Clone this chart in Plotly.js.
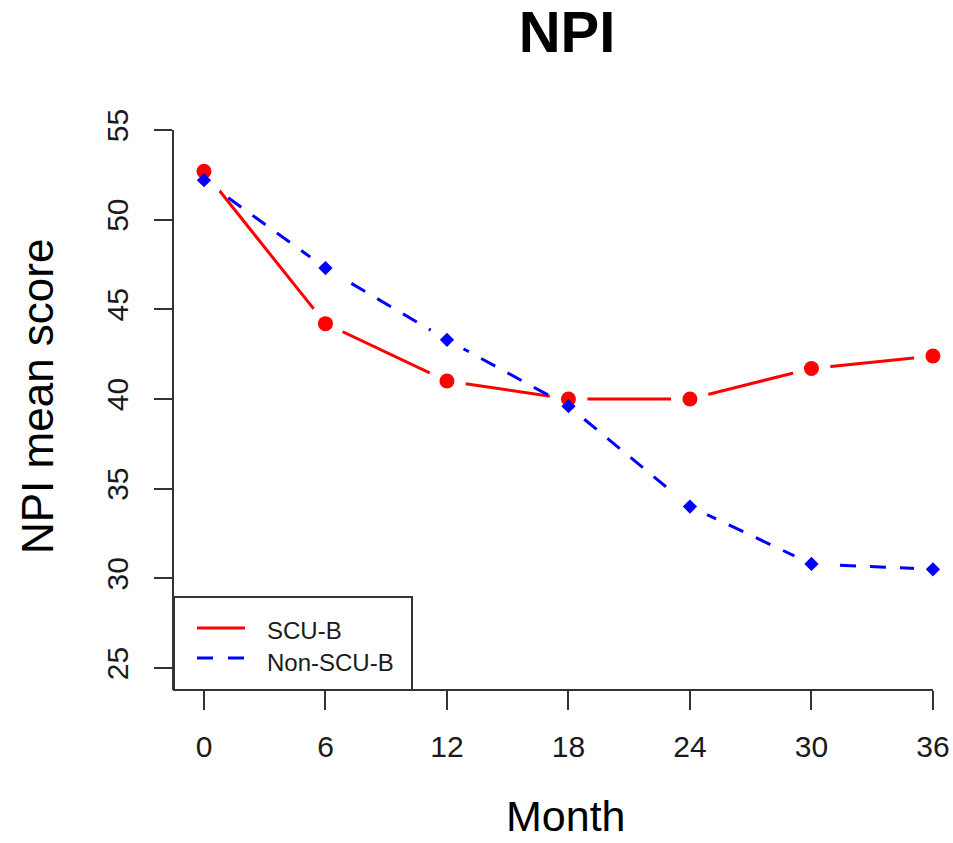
<!DOCTYPE html>
<html>
<head>
<meta charset="utf-8">
<script src="https://cdn.plot.ly/plotly-3.0.1.min.js"></script>
<style>html,body{margin:0;padding:0;background:#fff;}#chart{width:953px;height:843px;}</style>
</head>
<body>
<div id="chart"></div>
<script>
// ---- data ----
const months = [0, 6, 12, 18, 24, 30, 36];
const scuB = [52.7, 44.2, 41.0, 40.0, 40.0, 41.7, 42.4];
const nonScuB = [52.2, 47.3, 43.3, 39.6, 34.0, 30.8, 30.5];
const seriesNames = ["SCU-B", "Non-SCU-B"];
const xTicks = [0, 6, 12, 18, 24, 30, 36];
const yTicks = [25, 30, 35, 40, 45, 50, 55];
const chartTitle = "NPI";
const xTitle = "Month";
const yTitle = "NPI mean score";

// ---- styles ----
const RED = "#ff0000";
const BLUE = "#0000ff";
const FONT = "Liberation Sans, Arial, sans-serif";
const AXC = "#333333";
const XR = [-1.48, 36.99];
const YR = [23.77, 55];

const traces = [
  // connecting lines
  {x: months, y: scuB, name: seriesNames[0], mode: "lines", line: {color: RED, width: 3}, showlegend: false},
  {x: months, y: nonScuB, name: seriesNames[1], mode: "lines", line: {color: BLUE, width: 3, dash: "16px,14px"}, showlegend: false},
  // white gaps around each point (R type = "b")
  {x: months, y: scuB, name: "gap", mode: "markers", marker: {color: "#ffffff", size: 38, symbol: "circle"}, showlegend: false},
  {x: months, y: nonScuB, name: "gap", mode: "markers", marker: {color: "#ffffff", size: 38, symbol: "circle"}, showlegend: false},
  // point markers
  {x: months, y: scuB, name: seriesNames[0], mode: "markers", marker: {color: RED, size: 15, symbol: "circle"}, showlegend: false},
  {x: months, y: nonScuB, name: seriesNames[1], mode: "markers", marker: {color: BLUE, size: 11, symbol: "diamond"}, showlegend: false}
];

// geometry (pixels) -> paper units
const L = 174, PR = 953, T = 130, B = 690;
const px = v => (v - L) / (PR - L);
const py = v => (B - v) / (B - T);

const layout = {
  width: 953, height: 843,
  margin: {l: L, r: 953 - PR, t: T, b: 843 - B},
  paper_bgcolor: "#ffffff", plot_bgcolor: "#ffffff",
  font: {family: FONT, color: "#1a1a1a"},
  title: {text: "<b>" + chartTitle + "</b>", font: {family: FONT, size: 58, color: "#000000"},
          xref: "paper", x: px(567), xanchor: "center",
          yref: "container", y: 1 - 32 / 843, yanchor: "middle"},
  showlegend: false,
  hovermode: false,
  xaxis: {
    range: XR, tickvals: xTicks, ticktext: xTicks.map(String),
    showgrid: false, zeroline: false, showline: false,
    ticks: "outside", ticklen: 19, tickwidth: 2, tickcolor: AXC,
    tickfont: {family: FONT, size: 30, color: "#1a1a1a"}, ticklabelstandoff: 11,
    fixedrange: true
  },
  yaxis: {
    range: YR, tickvals: yTicks, ticktext: yTicks.map(String),
    showgrid: false, zeroline: false, showline: true, linecolor: AXC, linewidth: 2,
    ticks: "outside", ticklen: 18, tickwidth: 2, tickcolor: AXC, tickangle: -90,
    tickfont: {family: FONT, size: 30, color: "#1a1a1a"}, ticklabelstandoff: 14,
    fixedrange: true
  },
  shapes: [
    // bottom axis line, from the y axis to the last tick
    {type: "line", xref: "x", yref: "paper", x0: XR[0], x1: xTicks[xTicks.length - 1], y0: 0, y1: 0,
     line: {color: AXC, width: 2}, layer: "above"},
    // legend box
    {type: "rect", xref: "paper", yref: "paper", x0: 0, x1: px(412), y0: 0, y1: py(597),
     line: {color: AXC, width: 2}, fillcolor: "#ffffff", layer: "above"},
    {type: "line", xref: "paper", yref: "paper", x0: px(197), x1: px(245), y0: py(628), y1: py(628),
     line: {color: RED, width: 3}, layer: "above"},
    {type: "line", xref: "paper", yref: "paper", x0: px(197), x1: px(245), y0: py(658), y1: py(658),
     line: {color: BLUE, width: 3, dash: "16px,15px"}, layer: "above"}
  ],
  annotations: [
    {text: seriesNames[0], xref: "paper", yref: "paper", x: px(265), y: py(630), xanchor: "left", yanchor: "middle",
     showarrow: false, font: {family: FONT, size: 24, color: "#1a1a1a"}},
    {text: seriesNames[1], xref: "paper", yref: "paper", x: px(265), y: py(662), xanchor: "left", yanchor: "middle",
     showarrow: false, font: {family: FONT, size: 24, color: "#1a1a1a"}},
    {text: xTitle, xref: "paper", yref: "paper", x: px(566), y: py(816), xanchor: "center", yanchor: "middle",
     showarrow: false, font: {family: FONT, size: 43, color: "#000000"}},
    {text: yTitle, xref: "paper", yref: "paper", x: px(37), y: py(397), xanchor: "center", yanchor: "middle",
     textangle: -90, showarrow: false, font: {family: FONT, size: 44, color: "#000000"}}
  ]
};

Plotly.newPlot("chart", traces, layout, {displayModeBar: false, staticPlot: true});
</script>
</body>
</html>
